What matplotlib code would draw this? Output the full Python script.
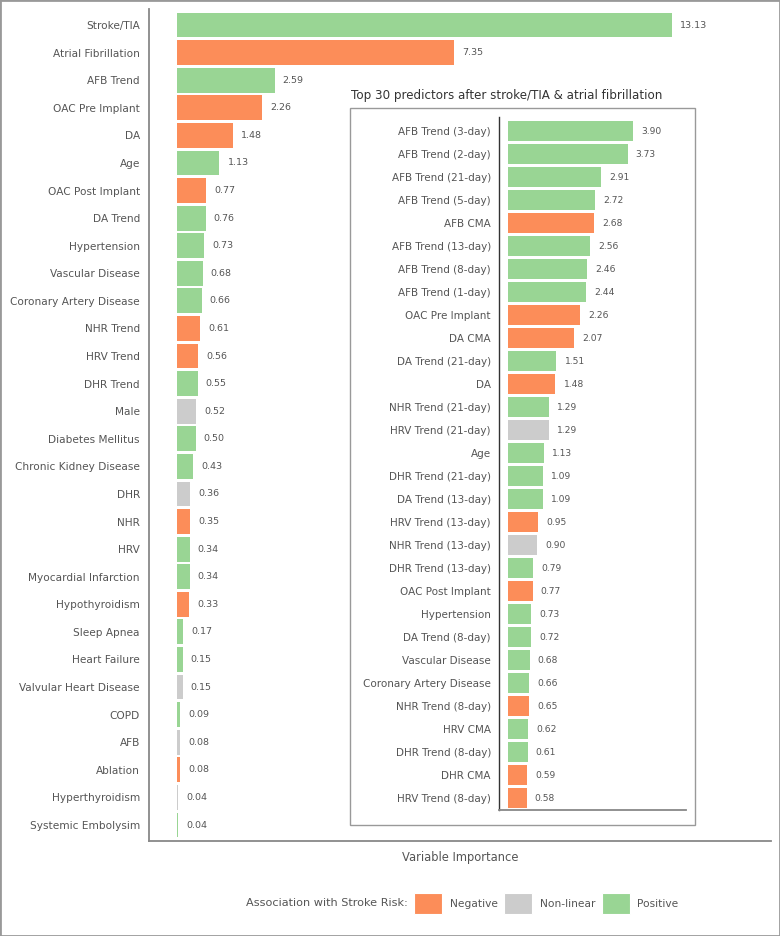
import matplotlib
matplotlib.use("Agg")
import matplotlib.pyplot as plt
from matplotlib.patches import Rectangle, Patch

plt.rcParams['font.family'] = ['DejaVu Sans']

COLORS = {"N": "#fc8d59", "NL": "#cccccc", "P": "#99d594"}
TXT = "#555555"

main_labels = ["Stroke/TIA", "Atrial Fibrillation", "AFB Trend", "OAC Pre Implant", "DA", "Age",
               "OAC Post Implant", "DA Trend", "Hypertension", "Vascular Disease",
               "Coronary Artery Disease", "NHR Trend", "HRV Trend", "DHR Trend", "Male",
               "Diabetes Mellitus", "Chronic Kidney Disease", "DHR", "NHR", "HRV",
               "Myocardial Infarction", "Hypothyroidism", "Sleep Apnea", "Heart Failure",
               "Valvular Heart Disease", "COPD", "AFB", "Ablation", "Hyperthyroidism",
               "Systemic Embolysim"]
main_values = [13.13, 7.35, 2.59, 2.26, 1.48, 1.13, 0.77, 0.76, 0.73, 0.68, 0.66, 0.61, 0.56,
               0.55, 0.52, 0.50, 0.43, 0.36, 0.35, 0.34, 0.34, 0.33, 0.17, 0.15, 0.15, 0.09,
               0.08, 0.08, 0.04, 0.04]
main_assoc = ["P", "N", "P", "N", "N", "P", "N", "P", "P", "P", "P", "N", "N", "P", "NL",
              "P", "P", "NL", "N", "P", "P", "N", "P", "P", "NL", "P", "NL", "N", "NL", "P"]

inset_labels = ["AFB Trend (3-day)", "AFB Trend (2-day)", "AFB Trend (21-day)", "AFB Trend (5-day)",
                "AFB CMA", "AFB Trend (13-day)", "AFB Trend (8-day)", "AFB Trend (1-day)",
                "OAC Pre Implant", "DA CMA", "DA Trend (21-day)", "DA", "NHR Trend (21-day)",
                "HRV Trend (21-day)", "Age", "DHR Trend (21-day)", "DA Trend (13-day)",
                "HRV Trend (13-day)", "NHR Trend (13-day)", "DHR Trend (13-day)",
                "OAC Post Implant", "Hypertension", "DA Trend (8-day)", "Vascular Disease",
                "Coronary Artery Disease", "NHR Trend (8-day)", "HRV CMA", "DHR Trend (8-day)",
                "DHR CMA", "HRV Trend (8-day)"]
inset_values = [3.90, 3.73, 2.91, 2.72, 2.68, 2.56, 2.46, 2.44, 2.26, 2.07, 1.51, 1.48, 1.29,
                1.29, 1.13, 1.09, 1.09, 0.95, 0.90, 0.79, 0.77, 0.73, 0.72, 0.68, 0.66, 0.65,
                0.62, 0.61, 0.59, 0.58]
inset_assoc = ["P", "P", "P", "P", "N", "P", "P", "P", "N", "N", "P", "N", "P", "NL", "P",
               "P", "P", "N", "NL", "P", "N", "P", "P", "P", "P", "N", "P", "P", "N", "N"]

legend_keys = ["N", "NL", "P"]
legend_names = ["Negative", "Non-linear", "Positive"]

W, H = 780, 936
fig = plt.figure(figsize=(W / 100, H / 100), dpi=100)


def fx(px):
    return px / W


def fy(py):
    return (H - py) / H


# main axes
ax = fig.add_axes([fx(149), fy(841), fx(771) - fx(149), fy(9) - fy(841)])
ypos = list(range(len(main_values)))
ax.barh(ypos, main_values, height=0.9, color=[COLORS[a] for a in main_assoc],
        edgecolor="none", linewidth=0)
for y, v in zip(ypos, main_values):
    ax.annotate(f"{v:.2f}", xy=(v, y), xytext=(5.8, 0), textcoords="offset points",
                va="center", ha="left", fontsize=6.8, color=TXT)
ax.set_xlim(-0.74, 15.76)
ax.set_ylim(29.58, -0.58)
ax.set_yticks(ypos)
ax.set_yticklabels(main_labels, fontsize=7.6, color=TXT)
ax.tick_params(axis="y", length=0, pad=6.5)
ax.set_xticks([])
ax.set_xlabel("Variable Importance", fontsize=8.3, color=TXT, labelpad=7)
for s in ["top", "right"]:
    ax.spines[s].set_visible(False)
for s in ["left", "bottom"]:
    ax.spines[s].set_color("#888888")
    ax.spines[s].set_linewidth(1.3)

# inset frame
frame = Rectangle((fx(350), fy(825)), fx(695) - fx(350), fy(108) - fy(825),
                  transform=fig.transFigure, facecolor="white", edgecolor="#999999",
                  linewidth=1.0, zorder=2)
fig.patches.append(frame)
fig.text(fx(351), fy(95), "Top 30 predictors after stroke/TIA & atrial fibrillation",
         ha="left", va="center", fontsize=8.55, color="#333333")

# inset axes
ax2 = fig.add_axes([fx(499), fy(810), fx(686) - fx(499), fy(117) - fy(810)], zorder=3)
ax2.patch.set_alpha(0)
ipos = list(range(len(inset_values)))
ax2.barh(ipos, inset_values, height=0.87, color=[COLORS[a] for a in inset_assoc],
         edgecolor="none", linewidth=0)
for y, v in zip(ipos, inset_values):
    ax2.annotate(f"{v:.2f}", xy=(v, y), xytext=(5.8, 0), textcoords="offset points",
                 va="center", ha="left", fontsize=6.6, color=TXT)
ax2.set_xlim(-0.28, 5.55)
ax2.set_ylim(29.52, -0.61)
ax2.set_yticks(ipos)
ax2.set_yticklabels(inset_labels, fontsize=7.5, color=TXT)
ax2.tick_params(axis="y", length=0, pad=5.8)
ax2.set_xticks([])
for s in ["top", "right"]:
    ax2.spines[s].set_visible(False)
ax2.spines["left"].set_color("#333333")
ax2.spines["left"].set_linewidth(1.0)
ax2.spines["bottom"].set_color("#888888")
ax2.spines["bottom"].set_linewidth(1.3)

# legend
fs = 7.7
fspx = fs * 100 / 72
handles = [Patch(facecolor=COLORS[k], edgecolor="white", linewidth=0.8) for k in legend_keys]
leg = fig.legend(handles, legend_names, loc="center left",
                 bbox_to_anchor=(fx(414), fy(903.5)), ncol=3, frameon=False,
                 fontsize=fs, handlelength=28 / fspx, handleheight=27 / fspx,
                 handletextpad=8 / fspx, columnspacing=6 / fspx, borderpad=0,
                 borderaxespad=0, labelcolor=TXT)
fig.text(fx(408), fy(903.5), "Association with Stroke Risk:", ha="right", va="center",
         fontsize=8.1, color=TXT)

# figure border
fig.patches.append(Rectangle((0, 0), 1, 1, transform=fig.transFigure, fill=False,
                             edgecolor="#999999", linewidth=2.0, zorder=10))

fig.savefig("out.png", dpi=100)
